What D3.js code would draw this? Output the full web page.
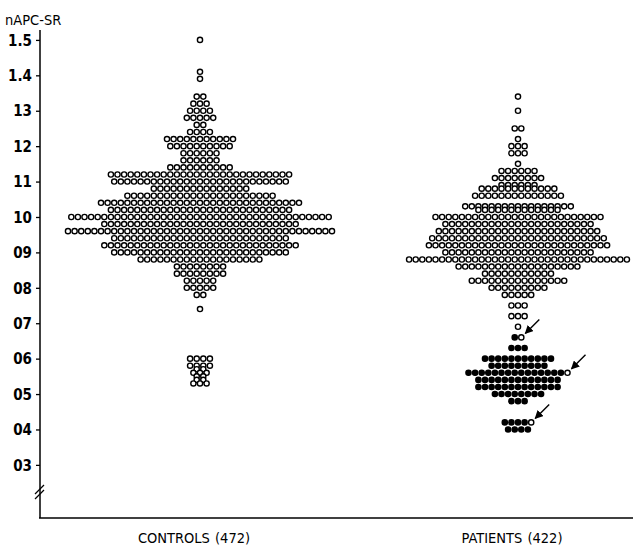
<!DOCTYPE html>
<html>
<head>
<meta charset="utf-8">
<script src="https://cdn.jsdelivr.net/npm/d3@7"></script>
<style>
  body { margin: 0; background: #fff; }
  text { font-family: 'DejaVu Sans Condensed', 'DejaVu Sans', sans-serif; fill: #000; }
</style>
</head>
<body>
<svg id="chart" width="633" height="546"></svg>
<script>
// groups on the x axis
const groups = ['CONTROLS (472)', 'PATIENTS (422)'];

// y axis ticks, labels as printed in the figure
const yTickValues = [1.5, 1.4, 1.3, 1.2, 1.1, 1.0, 0.9, 0.8, 0.7, 0.6, 0.5, 0.4, 0.3];
const yTickLabels = ['1.5', '1.4', '13', '12', '11', '10', '09', '08', '07', '06', '05', '04', '03'];

// controls: nAPC-SR level and number of subjects at that level
const controlsValues = [1.50, 1.41, 1.39, 1.34, 1.32, 1.30, 1.28, 1.26, 1.24, 1.22, 1.20, 1.18, 1.16, 1.14,
  1.12, 1.10, 1.08, 1.06, 1.04, 1.02, 1.00, 0.98, 0.96, 0.94, 0.92, 0.90, 0.88, 0.86, 0.84, 0.82,
  0.80, 0.78, 0.74, 0.60, 0.58, 0.57, 0.56, 0.55, 0.54, 0.53];
const controlsCounts = [1, 1, 1, 2, 3, 4, 5, 2, 4, 11, 10, 6, 6, 10,
  28, 27, 15, 23, 31, 28, 40, 30, 41, 27, 30, 27, 19, 8, 8, 5,
  5, 2, 1, 4, 4, 2, 3, 2, 2, 3];

// patients: level, number of subjects, how many of them are drawn filled
const patientsValues = [1.34, 1.30, 1.25, 1.22, 1.20, 1.18, 1.15, 1.13, 1.11, 1.09, 1.08, 1.06, 1.03, 1.02,
  1.00, 0.98, 0.96, 0.94, 0.92, 0.90, 0.88, 0.86, 0.84, 0.82, 0.80, 0.78, 0.75, 0.72, 0.69,
  0.66, 0.63, 0.60, 0.58, 0.56, 0.54, 0.52, 0.50, 0.48, 0.42, 0.40];
const patientsCounts = [1, 1, 2, 1, 3, 3, 1, 6, 8, 6, 12, 14, 17, 13,
  26, 23, 25, 27, 28, 23, 34, 19, 11, 15, 9, 5, 3, 3, 1,
  2, 3, 11, 9, 16, 13, 13, 8, 3, 5, 4];
const patientsFilled = [0, 0, 0, 0, 0, 0, 0, 0, 0, 0, 0, 0, 0, 0,
  0, 0, 0, 0, 0, 0, 0, 0, 0, 0, 0, 0, 0, 0, 0,
  1, 3, 11, 9, 15, 13, 13, 8, 3, 4, 4];

// rows whose last (open) dot carries an arrow
const arrowValues = [0.66, 0.56, 0.42];

const svg = d3.select('#chart');
const pitch = 6.6;
const r = 2.6;

const y = d3.scaleLinear().domain([0.15, 1.528]).range([518, 30]);
const x = d3.scalePoint().domain(groups).range([200, 518]);

// build one record per dot
function dots(group, values, counts, filled) {
  const out = [];
  values.forEach((v, ri) => {
    const n = counts[ri];
    const f = filled ? filled[ri] : 0;
    for (let i = 0; i < n; i++) {
      out.push({ group, v, cx: x(group) + (i - (n - 1) / 2) * pitch, filled: i < f });
    }
  });
  return out;
}

const allDots = dots(groups[0], controlsValues, controlsCounts)
  .concat(dots(groups[1], patientsValues, patientsCounts, patientsFilled));

svg.append('g')
  .selectAll('circle')
  .data(allDots)
  .enter().append('circle')
  .attr('cx', d => d.cx)
  .attr('cy', d => y(d.v))
  .attr('r', r)
  .attr('fill', d => d.filled ? '#000' : '#fff')
  .attr('stroke', '#000')
  .attr('stroke-width', 1.4);

// arrows pointing at the open dot at the end of some patient rows
svg.append('defs').append('marker')
  .attr('id', 'head')
  .attr('viewBox', '0 0 10 10')
  .attr('refX', 9).attr('refY', 5)
  .attr('markerWidth', 6).attr('markerHeight', 6)
  .attr('orient', 'auto')
  .append('path').attr('d', 'M0,0L10,5L0,10z').attr('fill', '#000');

arrowValues.forEach(v => {
  const ri = patientsValues.indexOf(v);
  const n = patientsCounts[ri];
  const cx = x(groups[1]) + ((n - 1) / 2) * pitch;
  const cy = y(v);
  svg.append('line')
    .attr('x1', cx + 18).attr('y1', cy - 18)
    .attr('x2', cx + 4).attr('y2', cy - 4)
    .attr('stroke', '#000').attr('stroke-width', 1.4)
    .attr('marker-end', 'url(#head)');
});

// y axis
const yAxis = svg.append('g')
  .attr('transform', 'translate(40,0)')
  .call(d3.axisLeft(y).tickValues(yTickValues).tickFormat((d, i) => yTickLabels[i]).tickSize(4).tickPadding(4));
yAxis.select('.domain').remove();
yAxis.selectAll('.tick line').attr('stroke', '#000').attr('stroke-width', 1.3);
yAxis.selectAll('.tick text')
  .style('font-size', '15px').style('font-weight', 'bold')
  .attr('dy', '0.35em');

svg.append('line')
  .attr('x1', 40).attr('x2', 40).attr('y1', 30).attr('y2', 518)
  .attr('stroke', '#000').attr('stroke-width', 1.5);
svg.append('line')
  .attr('x1', 39).attr('x2', 633).attr('y1', 518).attr('y2', 518)
  .attr('stroke', '#000').attr('stroke-width', 1.5);

// axis break mark
[0, 5].forEach(o => {
  svg.append('line')
    .attr('x1', 35).attr('y1', 494 + o).attr('x2', 44).attr('y2', 485 + o)
    .attr('stroke', '#000').attr('stroke-width', 1.3);
});

svg.append('text')
  .attr('x', 5).attr('y', 25)
  .style('font-size', '14.5px')
  .text('nAPC-SR');

// group labels
svg.append('g')
  .selectAll('text')
  .data(groups)
  .enter().append('text')
  .attr('x', d => x(d) - 6)
  .attr('y', 543)
  .attr('text-anchor', 'middle')
  .style('font-size', '14.5px')
  .style('word-spacing', '1px')
  .text(d => d);
</script>
</body>
</html>
